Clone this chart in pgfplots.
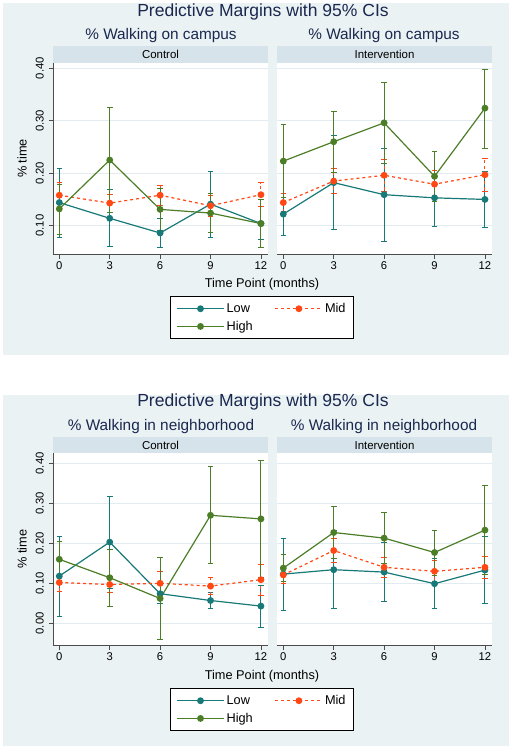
\documentclass[border=0pt]{standalone}
\usepackage{pgfplots}
\pgfplotsset{compat=1.18}
\usepackage{fontspec}
\setmainfont{Liberation Sans}

\definecolor{bg}{RGB}{234,242,243}
\definecolor{strip}{RGB}{214,227,234}
\definecolor{gridc}{RGB}{226,236,240}
\definecolor{ttl}{RGB}{26,40,80}
\definecolor{low}{RGB}{24,122,120}
\definecolor{mid}{RGB}{255,72,20}
\definecolor{high}{RGB}{76,126,40}

\pgfplotsset{
  panel/.style={
    scale only axis, width=215bp,
    xmin=-0.375, xmax=12.42,
    xtick={0,3,6,9,12},
    ytick={0,0.1,0.2,0.3,0.4},
    ymajorgrids, grid style={gridc, line width=0.9bp},
    axis background/.style={fill=white},
    axis x line*=bottom,
    tick align=outside, major tick length=4bp,
    tick style={black!70, line width=0.6bp},
    axis line style={black!70, line width=0.8bp},
    ticklabel style={font=\fontsize{11.3}{13}\selectfont},
    /pgf/number format/assume math mode=true,
    yticklabel style={rotate=90, anchor=south, inner sep=5bp,
      /pgf/number format/fixed, /pgf/number format/fixed zerofill,
      /pgf/number format/precision=2},
    xticklabel style={inner sep=3bp},
    clip=false,
  },
  leftpanel/.style={panel, axis y line*=left,
    ylabel={\% time}, ylabel style={font=\fontsize{12.8}{15}\selectfont,
      at={(axis description cs:-0.144,0.5)}, anchor=center}},
  rightpanel/.style={panel, axis y line*=left, y axis line style={draw=none},
    yticklabels={}, ytick style={draw=none}},
  serlow/.style={low, line width=1.2bp, mark=*, mark size=2.8bp,
    mark options={solid, fill=low},
    error bars/.cd, y dir=both, y explicit, error mark=-,
    error bar style={low, line width=1bp, solid},
    error mark options={rotate=90, low, line width=1bp, mark size=2.8bp, solid}},
  sermid/.style={mid, line width=1.2bp, dashed, mark=*, mark size=2.8bp,
    mark options={solid, fill=mid},
    error bars/.cd, y dir=both, y explicit, error mark=-,
    error bar style={mid, line width=1bp, dashed},
    error mark options={rotate=90, mid, line width=1bp, mark size=2.8bp, solid}},
  serhigh/.style={high, line width=1.2bp, mark=*, mark size=2.8bp,
    mark options={solid, fill=high},
    error bars/.cd, y dir=both, y explicit, error mark=-,
    error bar style={high, line width=1bp, solid},
    error mark options={rotate=90, high, line width=1bp, mark size=2.8bp, solid}},
  mylegend/.style={
    legend columns=2,
    legend cell align=left,
    legend style={draw=black, fill=white, line width=0.8bp,
      font=\fontsize{12.8}{15}\selectfont, inner xsep=6bp, inner ysep=5bp,
      row sep=3bp,
      /tikz/every even column/.append style={column sep=20bp}},
    legend image code/.code={
      \draw[mark repeat=2, mark phase=2] plot coordinates {(0bp,0bp) (23.5bp,0bp) (47bp,0bp)};},
  },
}

\begin{document}
\begin{tikzpicture}
\path[use as bounding box, fill=white] (0,0) rectangle (512bp,-750bp);
\fill[bg] (3bp,-3bp) rectangle (509bp,-355bp);
\fill[bg] (3bp,-395bp) rectangle (509bp,-746bp);

% ---------- TOP PANEL ----------
\node[ttl, font=\fontsize{17.6}{20}\selectfont] at (263bp,-11.5bp) {Predictive Margins with 95\% CIs};
\node[ttl, font=\fontsize{15.4}{18}\selectfont] at (161bp,-36bp) {\% Walking on campus};
\node[ttl, font=\fontsize{15.4}{18}\selectfont] at (384bp,-36bp) {\% Walking on campus};
\fill[strip] (53bp,-46bp) rectangle (268bp,-62.5bp);
\fill[strip] (277bp,-46bp) rectangle (492bp,-62.5bp);
\node[font=\fontsize{11.5}{13}\selectfont] at (160.5bp,-54bp) {Control};
\node[font=\fontsize{11.5}{13}\selectfont] at (384.5bp,-54bp) {Intervention};
\node[font=\fontsize{12.8}{15}\selectfont] at (262bp,-284bp) {Time Point (months)};

\begin{axis}[leftpanel, at={(53bp,-254.5bp)}, anchor=south west,
  height=192bp, ymin=0.045, ymax=0.411,
  mylegend,
  legend style={at={(axis description cs:0.972,-0.216)}, anchor=north}]
\addplot[serlow] table[y error plus expr=\thisrow{hi}-\thisrow{y}, y error minus expr=\thisrow{y}-\thisrow{lo}] {
x y lo hi
0 0.144 0.078 0.208
3 0.114 0.060 0.168
6 0.086 0.058 0.113
9 0.141 0.078 0.203
12 0.104 0.073 0.136
};
\addlegendentry{Low}
\addplot[sermid] table[y error plus expr=\thisrow{hi}-\thisrow{y}, y error minus expr=\thisrow{y}-\thisrow{lo}] {
x y lo hi
0 0.158 0.133 0.182
3 0.143 0.125 0.160
6 0.158 0.138 0.177
9 0.138 0.118 0.158
12 0.159 0.136 0.182
};
\addlegendentry{Mid}
\addplot[serhigh] table[y error plus expr=\thisrow{hi}-\thisrow{y}, y error minus expr=\thisrow{y}-\thisrow{lo}] {
x y lo hi
0 0.132 0.083 0.179
3 0.225 0.125 0.326
6 0.131 0.090 0.171
9 0.124 0.087 0.162
12 0.104 0.059 0.150
};
\addlegendentry{High}
\end{axis}

\begin{axis}[rightpanel, at={(277bp,-254.5bp)}, anchor=south west,
  height=192bp, ymin=0.045, ymax=0.411]
\addplot[serlow] table[y error plus expr=\thisrow{hi}-\thisrow{y}, y error minus expr=\thisrow{y}-\thisrow{lo}] {
x y lo hi
0 0.122 0.082 0.162
3 0.182 0.092 0.272
6 0.159 0.070 0.247
9 0.153 0.099 0.206
12 0.150 0.096 0.203
};
\addplot[sermid] table[y error plus expr=\thisrow{hi}-\thisrow{y}, y error minus expr=\thisrow{y}-\thisrow{lo}] {
x y lo hi
0 0.144 0.127 0.161
3 0.185 0.161 0.209
6 0.196 0.165 0.227
9 0.179 0.155 0.206
12 0.197 0.166 0.228
};
\addplot[serhigh] table[y error plus expr=\thisrow{hi}-\thisrow{y}, y error minus expr=\thisrow{y}-\thisrow{lo}] {
x y lo hi
0 0.223 0.154 0.292
3 0.260 0.201 0.317
6 0.296 0.219 0.373
9 0.194 0.146 0.242
12 0.324 0.247 0.398
};
\end{axis}

% ---------- BOTTOM PANEL ----------
\node[ttl, font=\fontsize{17.6}{20}\selectfont] at (263bp,-402bp) {Predictive Margins with 95\% CIs};
\node[ttl, font=\fontsize{15.4}{18}\selectfont] at (161bp,-427bp) {\% Walking in neighborhood};
\node[ttl, font=\fontsize{15.4}{18}\selectfont] at (384bp,-427bp) {\% Walking in neighborhood};
\fill[strip] (53bp,-437bp) rectangle (268bp,-452.7bp);
\fill[strip] (277bp,-437bp) rectangle (492bp,-452.7bp);
\node[font=\fontsize{11.5}{13}\selectfont] at (160.5bp,-445bp) {Control};
\node[font=\fontsize{11.5}{13}\selectfont] at (384.5bp,-445bp) {Intervention};
\node[font=\fontsize{12.8}{15}\selectfont] at (262bp,-676bp) {Time Point (months)};

\begin{axis}[leftpanel, at={(53bp,-645.7bp)}, anchor=south west,
  height=193bp, ymin=-0.056, ymax=0.4265,
  mylegend,
  legend style={at={(axis description cs:0.972,-0.219)}, anchor=north}]
\addplot[serlow] table[y error plus expr=\thisrow{hi}-\thisrow{y}, y error minus expr=\thisrow{y}-\thisrow{lo}] {
x y lo hi
0 0.118 0.018 0.217
3 0.203 0.088 0.317
6 0.074 0.050 0.098
9 0.057 0.036 0.077
12 0.043 -0.011 0.095
};
\addlegendentry{Low}
\addplot[sermid] table[y error plus expr=\thisrow{hi}-\thisrow{y}, y error minus expr=\thisrow{y}-\thisrow{lo}] {
x y lo hi
0 0.102 0.079 0.123
3 0.097 0.077 0.117
6 0.100 0.070 0.130
9 0.093 0.073 0.114
12 0.109 0.069 0.148
};
\addlegendentry{Mid}
\addplot[serhigh] table[y error plus expr=\thisrow{hi}-\thisrow{y}, y error minus expr=\thisrow{y}-\thisrow{lo}] {
x y lo hi
0 0.160 0.115 0.205
3 0.114 0.042 0.185
6 0.062 -0.040 0.164
9 0.270 0.150 0.392
12 0.261 0.114 0.408
};
\addlegendentry{High}
\end{axis}

\begin{axis}[rightpanel, at={(277bp,-645.7bp)}, anchor=south west,
  height=193bp, ymin=-0.056, ymax=0.4265]
\addplot[serlow] table[y error plus expr=\thisrow{hi}-\thisrow{y}, y error minus expr=\thisrow{y}-\thisrow{lo}] {
x y lo hi
0 0.123 0.033 0.211
3 0.134 0.037 0.231
6 0.128 0.054 0.201
9 0.099 0.038 0.161
12 0.133 0.050 0.216
};
\addplot[sermid] table[y error plus expr=\thisrow{hi}-\thisrow{y}, y error minus expr=\thisrow{y}-\thisrow{lo}] {
x y lo hi
0 0.121 0.099 0.142
3 0.182 0.153 0.212
6 0.140 0.115 0.165
9 0.130 0.104 0.158
12 0.140 0.113 0.168
};
\addplot[serhigh] table[y error plus expr=\thisrow{hi}-\thisrow{y}, y error minus expr=\thisrow{y}-\thisrow{lo}] {
x y lo hi
0 0.138 0.104 0.173
3 0.227 0.162 0.292
6 0.213 0.150 0.277
9 0.177 0.120 0.233
12 0.233 0.123 0.345
};
\end{axis}
\end{tikzpicture}
\end{document}
